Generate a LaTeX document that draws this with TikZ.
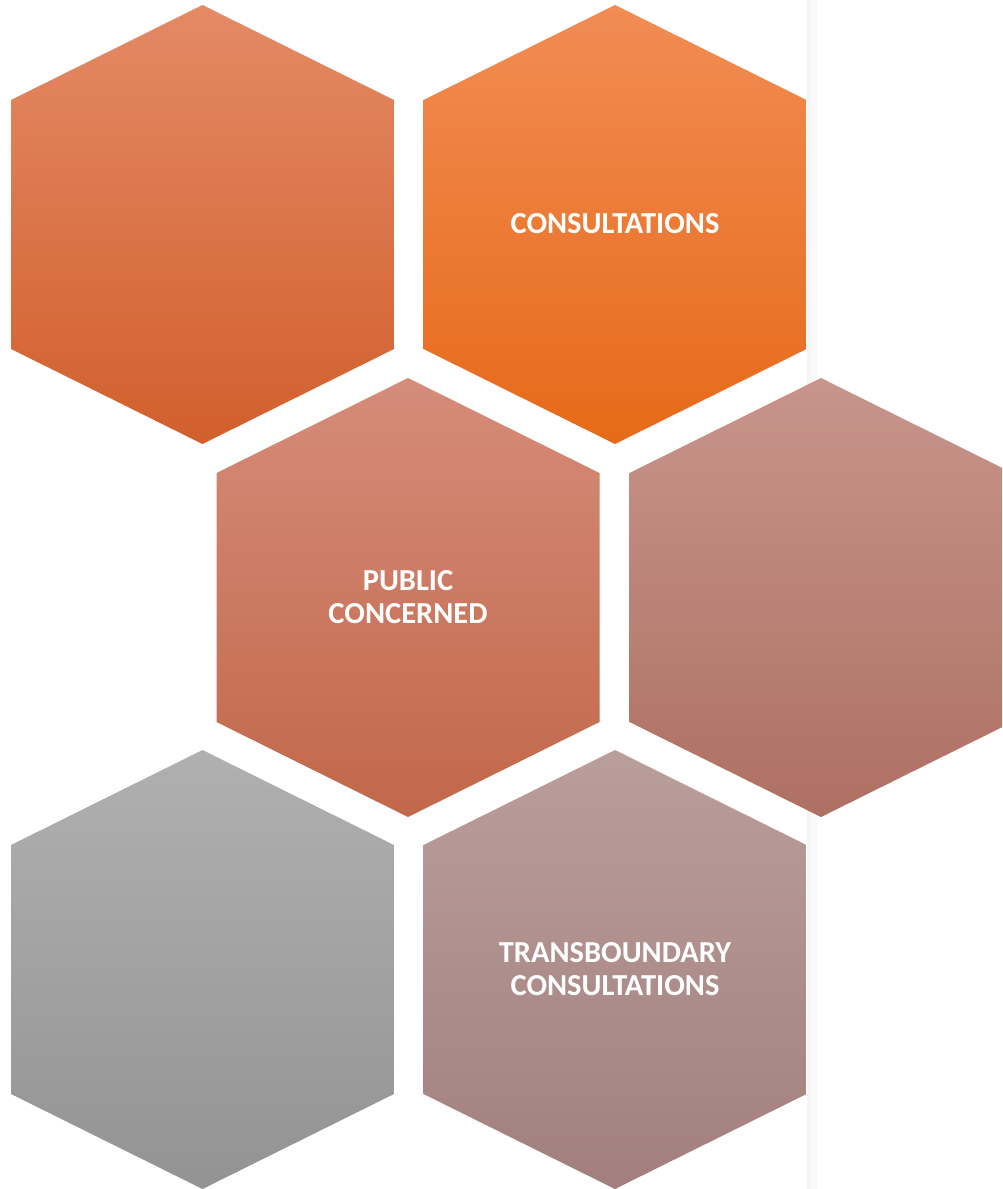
\documentclass[tikz,border=0pt]{standalone}
\usepackage{fontspec}
\setmainfont{Carlito}
\begin{document}
\begin{tikzpicture}[x=1pt,y=-1pt,
  hextext/.style={text=white,font=\bfseries\fontsize{30.5}{32.5}\selectfont,align=center,inner sep=0pt}]
\definecolor{hAt}{HTML}{E48A66}\definecolor{hAb}{HTML}{D25F2C}
\definecolor{hBt}{HTML}{F28C54}\definecolor{hBm}{HTML}{F57C28}\definecolor{hBb}{HTML}{E66A18}
\definecolor{hCt}{HTML}{D58C7A}\definecolor{hCb}{HTML}{C2674A}
\definecolor{hDt}{HTML}{C7958C}\definecolor{hDb}{HTML}{AE7062}
\definecolor{hEt}{HTML}{B0B0B0}\definecolor{hEb}{HTML}{939393}
\definecolor{hFt}{HTML}{BA9E9B}\definecolor{hFb}{HTML}{A27F7C}
\useasboundingbox (0,0) rectangle (1002,1189);
\clip (0,0) rectangle (1002,1189);
\fill[white] (0,0) rectangle (1002,1189);
% faint page edge band
\fill[black!4] (807,0) rectangle (811,1189);
\fill[black!2] (811,0) rectangle (817,1189);
\newcommand\hexshape[4]{%
  \shade[#4] (#1,#2-219.5) -- (#1+191.5,#2-124.5) -- (#1+191.5,#2+124.5) -- (#1,#2+219.5)
    -- (#1-191.5,#2+124.5) -- (#1-191.5,#2-124.5) -- cycle;
  \coordinate (#3) at (#1,#2);}
\hexshape{202.5}{224.5}{hexA}{top color=hAt,bottom color=hAb}
\hexshape{615}{224.5}{hexB}{top color=hBt,middle color=hBm,bottom color=hBb}
\hexshape{408}{597.5}{hexC}{top color=hCt,bottom color=hCb}
\hexshape{821}{597.5}{hexD}{top color=hDt,bottom color=hDb}
\hexshape{202.5}{969.5}{hexE}{top color=hEt,bottom color=hEb}
\hexshape{615}{969.5}{hexF}{top color=hFt,bottom color=hFb}
\node[hextext] (tB) at (615,224) {CONSULTATIONS};
\node[hextext] (tC) at (408,597) {PUBLIC\\CONCERNED};
\node[hextext] (tF) at (615,969) {TRANSBOUNDARY\\CONSULTATIONS};
\end{tikzpicture}
\end{document}
